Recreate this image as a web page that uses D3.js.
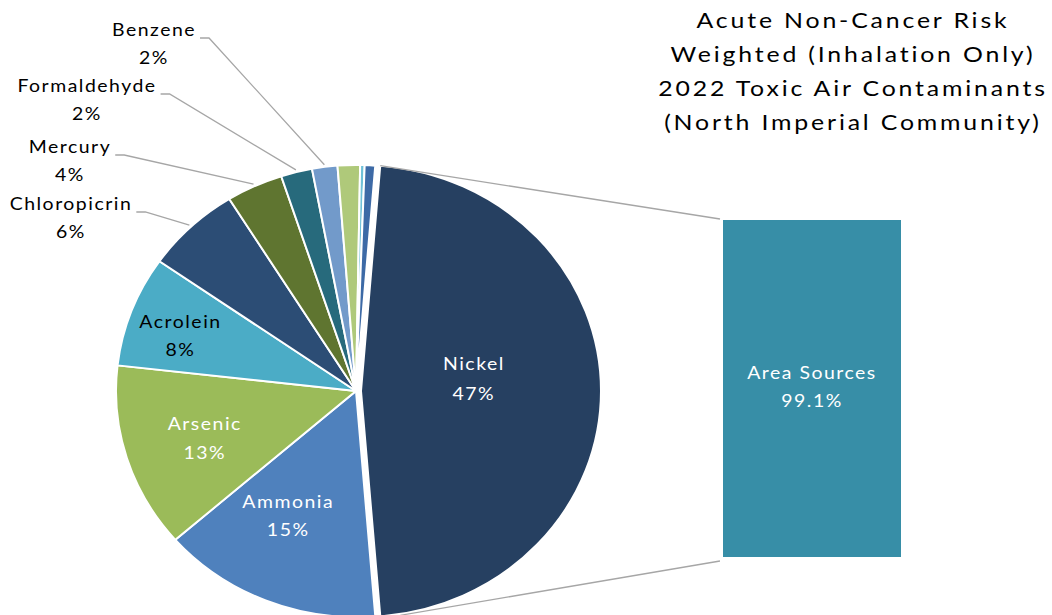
<!DOCTYPE html>
<html lang="en">
<head>
<meta charset="UTF-8">
<title>Acute Non-Cancer Risk</title>
<script src="https://cdn.jsdelivr.net/npm/d3@7/dist/d3.min.js"></script>
<style>
  body { margin: 0; background: #fff; }
  text { font-family: Lato, "Open Sans", sans-serif; }
</style>
</head>
<body>
<script>
// pie slices (percent of acute non-cancer risk)
const names = ["Nickel", "Ammonia", "Arsenic", "Acrolein", "Chloropicrin", "Mercury",
               "Formaldehyde", "Benzene", "Other A", "Other B", "Other C"];
const values = [47.3, 14.8, 13.2, 7.9, 6.4, 3.8, 2.1, 1.7, 1.5, 0.3, 0.7];
const labels = ["47%", "15%", "13%", "8%", "6%", "4%", "2%", "2%", "", "", ""];
const colors = ["#264061", "#4f81bd", "#9bbb59", "#4bacc6", "#2c4d75", "#5f7530",
                "#276a7c", "#729aca", "#afc97a", "#6fc1d8", "#3d6aa6"];

// bar of pie
const barName = "Area Sources";
const barValue = 99.1;
const barLabel = "99.1%";

const titleLines = ["Acute Non-Cancer Risk", "Weighted (Inhalation Only)",
                    "2022 Toxic Air Contaminants", "(North Imperial Community)"];

const width = 1052, height = 615;
const svg = d3.select("body").append("svg")
    .attr("width", width)
    .attr("height", height);

// pie geometry (slightly squashed vertically like the source)
const cx = 356, cy = 391, rx = 240, ry = 226;
const sy = ry / rx;
const startOffset = 4.6 * Math.PI / 180;

const pie = d3.pie().sort(null).value(d => d)
    .startAngle(startOffset).endAngle(startOffset + 2 * Math.PI);
const arcs = pie(values);
const arc = d3.arc().innerRadius(0).outerRadius(rx);

const g = svg.append("g")
    .attr("transform", `translate(${cx},${cy}) scale(1,${sy})`);

g.selectAll("path")
    .data(arcs)
    .join("path")
    .attr("d", arc)
    .attr("transform", (d, i) => {
        if (i !== 0) return null;
        const a = (d.startAngle + d.endAngle) / 2;
        return `translate(${5 * Math.sin(a)},${-5 * Math.cos(a)})`;
    })
    .attr("fill", (d, i) => colors[i])
    .attr("stroke", "#fff")
    .attr("stroke-width", 2)
    .attr("stroke-linejoin", "round");

// point on ellipse for a given angle and radius fraction
function pt(a, k, dx = 0) {
    return [cx + dx + k * rx * Math.sin(a), cy - k * ry * Math.cos(a)];
}

// centred multi-line text, widened a bit like the source font
function addText(x, y, lines, opts) {
    const grp = svg.append("g")
        .attr("transform", `translate(${x},0) scale(${opts.sx},1)`);
    const t = grp.append("text")
        .attr("text-anchor", "middle")
        .attr("fill", opts.fill)
        .style("font-size", opts.size + "px")
        .style("letter-spacing", opts.ls + "px");
    lines.forEach((s, i) => {
        t.append("tspan").attr("x", 0).attr("y", y + i * opts.lh).text(s);
    });
    return { grp, t };
}

const lblOpts = { size: 18, ls: 1.4, sx: 1.08, lh: 28 };

// inside labels
const inside = [
    { i: 0, k: 0.475, shift: -8, dy: 2, lh: 30, fill: "#fff" },
    { i: 1, k: 0.62, shift: 5, dy: 0, lh: 28, fill: "#fff" },
    { i: 2, k: 0.66, shift: 0, dy: 3, lh: 29, fill: "#fff" },
    { i: 3, k: 0.77, shift: -2.5, dy: 0, lh: 28, fill: "#000" }
];
inside.forEach(o => {
    const d = arcs[o.i];
    const a = (d.startAngle + d.endAngle) / 2 + o.shift * Math.PI / 180;
    const [x, y] = pt(a, o.k, o.i === 0 ? 5 : 0);
    addText(x, y - 8 + o.dy, [names[o.i], labels[o.i]], { ...lblOpts, lh: o.lh, fill: o.fill });
});

// outside labels with leader lines
const outside = [
    { i: 7, lx: 154, ly: 30 },
    { i: 6, lx: 87, ly: 86 },
    { i: 5, lx: 70, ly: 147 },
    { i: 4, lx: 71, ly: 204 }
];
outside.forEach(o => {
    const d = arcs[o.i];
    const a = (d.startAngle + d.endAngle) / 2;
    const { t } = addText(o.lx, o.ly + 6, [names[o.i], labels[o.i]], { ...lblOpts, fill: "#000" });
    const w = t.select("tspan").node().getComputedTextLength() * lblOpts.sx;
    const x0 = o.lx + w / 2 + 4;
    const end = pt(a, 1.01);
    svg.append("polyline")
        .attr("points", [[x0, o.ly + 8], [x0 + 9, o.ly + 8], end].map(p => p.join(",")).join(" "))
        .attr("fill", "none")
        .attr("stroke", "#a6a6a6")
        .attr("stroke-width", 1.3);
});

// bar
const barX = 723, barW = 178;
const y = d3.scaleLinear().domain([0, barValue]).range([557, 220]);
svg.append("rect")
    .attr("x", barX).attr("y", y(barValue))
    .attr("width", barW).attr("height", y(0) - y(barValue))
    .attr("fill", "#378ea7");

const barMid = (y(0) + y(barValue)) / 2;
addText(barX + barW / 2, barMid - 9, [barName, barLabel], { ...lblOpts, fill: "#fff" });

// connector lines from the nickel slice to the bar
const nick = arcs[0];
const pTop = pt(nick.startAngle, 1.0, 5);
const pBot = pt(nick.endAngle, 1.0, 5);
svg.append("line")
    .attr("x1", pTop[0]).attr("y1", pTop[1])
    .attr("x2", barX - 3).attr("y2", y(barValue) - 1)
    .attr("stroke", "#a6a6a6").attr("stroke-width", 1.3);
svg.append("line")
    .attr("x1", pBot[0] + 20).attr("y1", pBot[1] - 1)
    .attr("x2", barX - 3).attr("y2", y(0) + 4)
    .attr("stroke", "#a6a6a6").attr("stroke-width", 1.3);

// title
addText(853, 28, titleLines, { size: 22, ls: 2.5, sx: 1.13, lh: 34, fill: "#000" });
</script>
</body>
</html>
